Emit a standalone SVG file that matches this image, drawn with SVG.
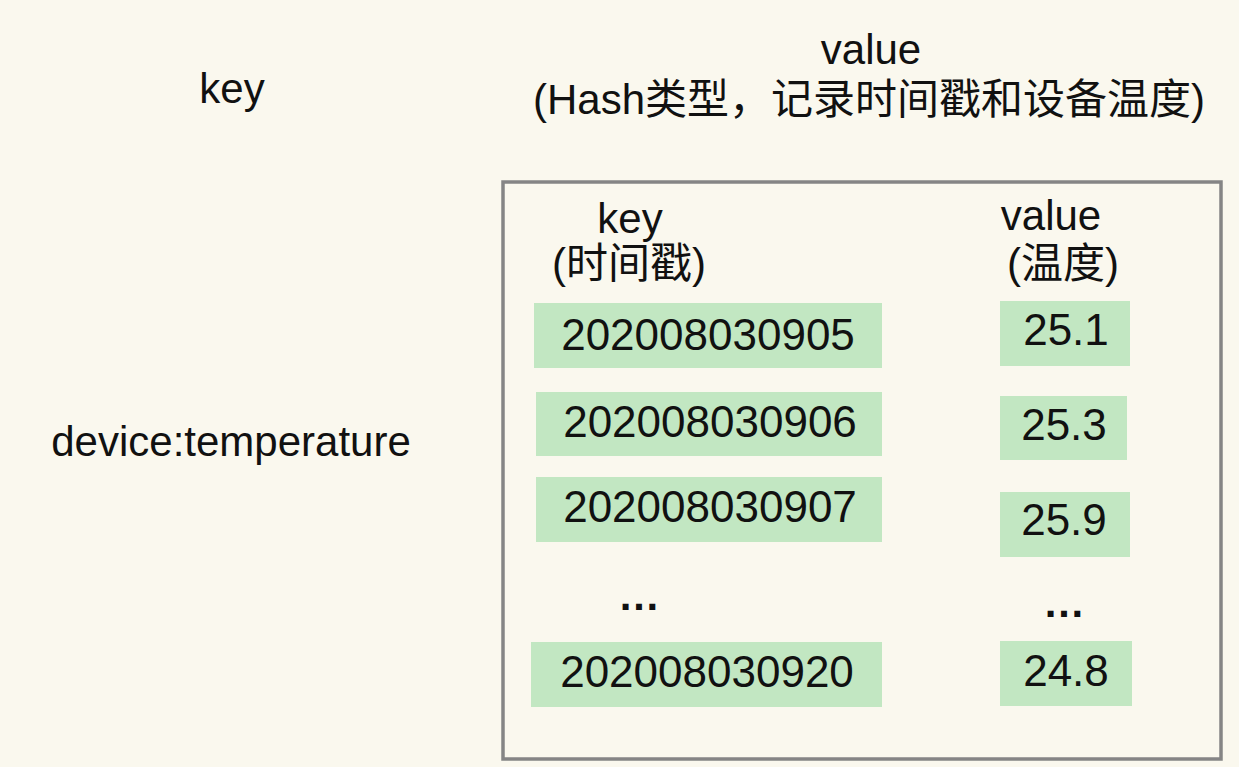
<svg xmlns="http://www.w3.org/2000/svg" width="1239" height="767" viewBox="0 0 1239 767">
<style>
text{font-family:"Liberation Sans","Noto Sans CJK SC",sans-serif;font-size:42px;fill:#111;text-anchor:middle}
.num{font-size:44px}
.dots{font-weight:bold}
.cell{fill:#C2E7C2}
</style>
<rect x="0" y="0" width="1239" height="767" fill="#FAF8EE"/>
<g id="key-header"><text x="232" y="103">key</text></g>
<g id="value-header"><text x="871" y="64">value</text><text x="869" y="114">(Hash类型，记录时间戳和设备温度)</text></g>
<g id="key-name"><text x="231" y="456">device:temperature</text></g>
<g id="hash-box">
<rect x="503" y="182" width="718" height="577" fill="none" stroke="#858585" stroke-width="3.5"/>
<text x="630" y="233">key</text>
<text x="629" y="278">(时间戳)</text>
<text x="1051" y="230">value</text>
<text x="1063" y="278">(温度)</text>
</g>
<g id="row1"><rect class="cell" x="534" y="303" width="348" height="65"/><text class="num" x="708" y="350">202008030905</text>
<rect class="cell" x="1000" y="301" width="130" height="65"/><text class="num" x="1066" y="345">25.1</text></g>
<g id="row2"><rect class="cell" x="536" y="392" width="346" height="64"/><text class="num" x="710" y="437">202008030906</text>
<rect class="cell" x="1000" y="396" width="127" height="64"/><text class="num" x="1064" y="440">25.3</text></g>
<g id="row3"><rect class="cell" x="536" y="477" width="346" height="65"/><text class="num" x="710" y="522">202008030907</text>
<rect class="cell" x="1000" y="492" width="130" height="65"/><text class="num" x="1064" y="535">25.9</text></g>
<g id="ellipsis"><text class="dots" x="639" y="610">…</text><text class="dots" x="1064" y="617">…</text></g>
<g id="row4"><rect class="cell" x="531" y="642" width="351" height="65"/><text class="num" x="707" y="687">202008030920</text>
<rect class="cell" x="1000" y="641" width="132" height="65"/><text class="num" x="1066" y="686">24.8</text></g>
<g id="connectors"></g>
</svg>
